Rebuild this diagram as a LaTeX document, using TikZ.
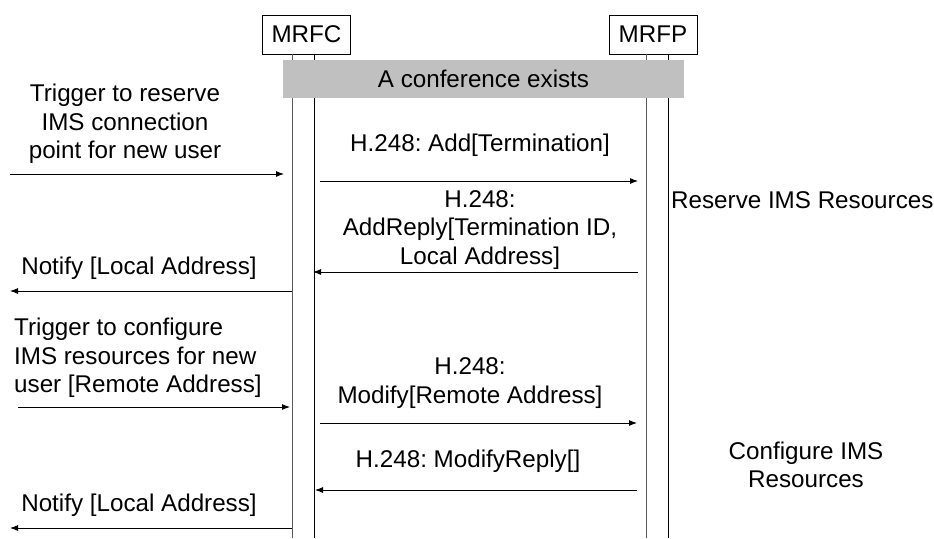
\documentclass[tikz,border=0pt]{standalone}
\usepackage{fontspec}
\setmainfont{Liberation Sans}
\usetikzlibrary{arrows.meta}
\definecolor{confgray}{RGB}{192,192,192}
\definecolor{lifegray}{RGB}{90,90,90}
\begin{document}
\frenchspacing
\begin{tikzpicture}[x=1pt,y=-1pt,
  lbl/.style={font=\fontsize{24.2}{28.5}\selectfont, inner sep=0pt, align=center},
  msg/.style={-{Latex[length=8pt,width=6pt]}, line width=0.9pt},
  entity/.style={draw, line width=0.8pt, minimum width=88pt, minimum height=39pt, inner sep=0pt, font=\fontsize{24.2}{28.5}\selectfont},
  lifeA/.style={line width=1pt, draw=lifegray},
  lifeB/.style={line width=1pt, draw=black}]
\useasboundingbox (0,0) rectangle (934,538);

% entities
\node[entity] (mrfc) at (306.5,34.5) {MRFC};
\node[entity] (mrfp) at (653,34.5) {MRFP};

% lifeline coordinates
\coordinate (c1t) at (292,54);  \coordinate (c1b) at (292,538);
\coordinate (c2t) at (314,54);  \coordinate (c2b) at (314,538);
\coordinate (p1t) at (646,54);  \coordinate (p1b) at (646,538);
\coordinate (p2t) at (668,54);  \coordinate (p2b) at (668,538);
\draw[lifeA] (c1t) -- (c1b);
\draw[lifeB] (c2t) -- (c2b);
\draw[lifeA] (p1t) -- (p1b);
\draw[lifeB] (p2t) -- (p2b);

% conference bar
\node[fill=confgray, minimum width=401pt, minimum height=38pt, inner sep=0pt,
      font=\fontsize{24.2}{28.5}\selectfont] (conf) at (483.5,79) {A conference exists};

% message end points
\coordinate (t1s) at (10,174);  \coordinate (t1e) at (284,174);
\coordinate (a1s) at (320,181); \coordinate (a1e) at (638,181);
\coordinate (r1s) at (638,272); \coordinate (r1e) at (313,272);
\coordinate (n1s) at (292,291); \coordinate (n1e) at (10,291);
\coordinate (t2s) at (18,407);  \coordinate (t2e) at (290,407);
\coordinate (m1s) at (320,423); \coordinate (m1e) at (637,423);
\coordinate (r2s) at (637,490); \coordinate (r2e) at (315,490);
\coordinate (n2s) at (292,528); \coordinate (n2e) at (10,528);

\draw[msg] (t1s) -- (t1e);
\draw[msg] (a1s) -- (a1e);
\draw[msg] (r1s) -- (r1e);
\draw[msg] (n1s) -- (n1e);
\draw[msg] (t2s) -- (t2e);
\draw[msg] (m1s) -- (m1e);
\draw[msg] (r2s) -- (r2e);
\draw[msg] (n2s) -- (n2e);

% labels
\node[lbl] (lt1) at (125,124) {Trigger to reserve\\IMS connection\\point for new user};
\node[lbl] (la1) at (480,145) {H.248: Add[Termination]};
\node[lbl] (lr1) at (480,230) {H.248:\\AddReply[Termination ID,\\Local Address]};
\node[lbl] (ln1) at (139,268) {Notify [Local Address]};
\node[lbl, align=left, anchor=west] (lt2) at (14,358) {Trigger to configure\\IMS resources for new\\user [Remote Address]};
\node[lbl] (lm1) at (470,383) {H.248:\\Modify[Remote Address]};
\node[lbl] (lr2) at (468,461) {H.248: ModifyReply[]};
\node[lbl] (ln2) at (139,505) {Notify [Local Address]};
\node[lbl, anchor=west] (res) at (671,200) {Reserve IMS Resources};
\node[lbl] (cfg) at (806,465) {Configure IMS\\Resources};
\end{tikzpicture}
\end{document}
